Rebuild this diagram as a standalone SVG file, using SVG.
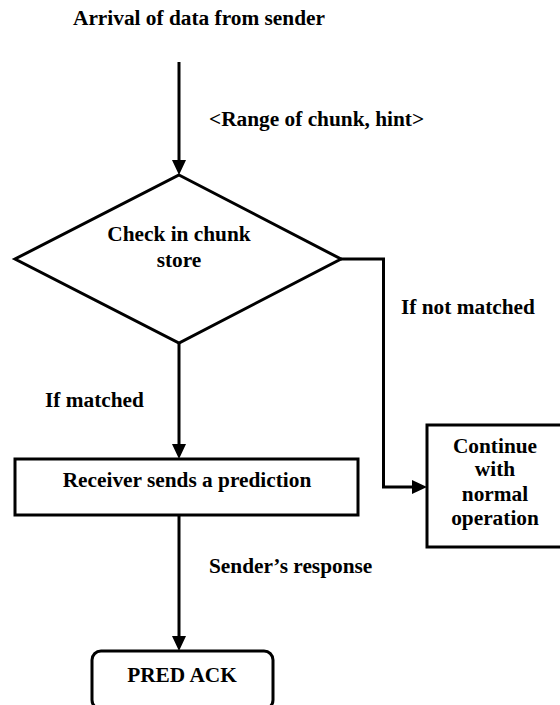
<svg xmlns="http://www.w3.org/2000/svg" width="560" height="705" viewBox="0 0 560 705">
<style>
  text { font-family: "Liberation Serif", "Times New Roman", "DejaVu Serif", serif; font-weight: bold; font-size: 21.33px; fill: #000; }
  .c { text-anchor: middle; }
  .shape { fill: #fff; stroke: #000; stroke-width: 3; }
  .conn { fill: none; stroke: #000; stroke-width: 3; }
</style>
<defs>
  <marker id="ah" markerUnits="userSpaceOnUse" markerWidth="16" markerHeight="16" refX="0" refY="7" orient="auto">
    <path d="M0,0 L15,7 L0,14 Z" fill="#000"/>
  </marker>
</defs>
<rect width="560" height="705" fill="#fff"/>

<g id="connectors">
  <path class="conn" d="M179,62 V160" marker-end="url(#ah)"/>
  <path class="conn" d="M341,259 H383.5 V487 H412" marker-end="url(#ah)"/>
  <path class="conn" d="M179,343 V444" marker-end="url(#ah)"/>
  <path class="conn" d="M179,515 V636" marker-end="url(#ah)"/>
</g>

<g id="labels">
  <text x="73" y="25">Arrival of data from sender</text>
  <text x="209" y="126">&lt;Range of chunk, hint&gt;</text>
  <text x="401" y="314">If not matched</text>
  <text x="45" y="407">If matched</text>
  <text x="209" y="573">Sender’s response</text>
</g>

<g id="check">
  <polygon class="shape" points="179,175 341,259 179,343 15,259"/>
  <text class="c" x="179" y="241">Check in chunk</text>
  <text class="c" x="179" y="267">store</text>
</g>

<g id="receiver">
  <rect class="shape" x="15" y="459" width="343" height="56"/>
  <text class="c" x="187" y="487">Receiver sends a prediction</text>
</g>

<g id="continue">
  <rect class="shape" x="427" y="425" width="136" height="122"/>
  <text class="c" x="495" y="453">Continue</text>
  <text class="c" x="495" y="476">with</text>
  <text class="c" x="495" y="501">normal</text>
  <text class="c" x="495" y="525">operation</text>
</g>

<g id="predack">
  <rect class="shape" x="92" y="651" width="181" height="58" rx="9"/>
  <text class="c" x="182" y="682">PRED ACK</text>
</g>
</svg>
